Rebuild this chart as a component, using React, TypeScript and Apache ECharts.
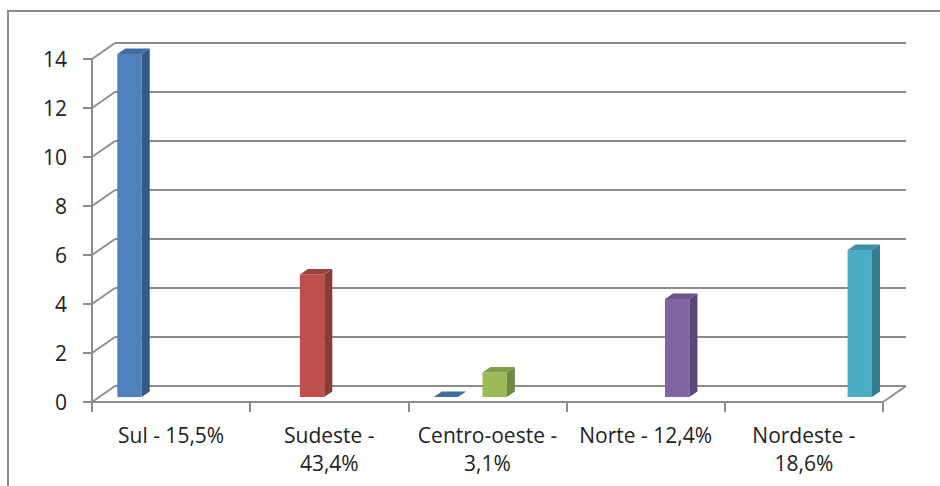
import React, { useEffect, useRef } from "react";
import * as echarts from "echarts";

// Regions with their share, shown as category labels
const categories = [
  "Sul - 15,5%",
  "Sudeste -\n43,4%",
  "Centro-oeste -\n3,1%",
  "Norte - 12,4%",
  "Nordeste -\n18,6%",
];

// One series per colour, clustered inside each category
const serie1 = [14, null, 0, null, null];
const serie2 = [null, 5, null, null, null];
const serie3 = [null, null, 1, null, null];
const serie4 = [null, null, null, 4, null];
const serie5 = [null, null, null, null, 6];

const yTicks = [0, 2, 4, 6, 8, 10, 12, 14];

const seriesValues = [serie1, serie2, serie3, serie4, serie5];

// front / side / top shades of each series
const palettes = [
  { front: "#4F81BD", side: "#365A87", top: "#3F6CA5" },
  { front: "#C0504D", side: "#8C3A38", top: "#A0413F" },
  { front: "#9BBB59", side: "#708A40", top: "#7F9E46" },
  { front: "#8064A2", side: "#5B4676", top: "#6B5489" },
  { front: "#4BACC6", side: "#337C90", top: "#3C8FA7" },
];

// pseudo-3D depth of the plot box, in pixels
const DEPTH_X = 23;
const DEPTH_Y = 16;
// where the bars sit inside that depth (fractions)
const BAR_FRONT = 0.31;
const BAR_BACK = 0.66;
// share of a category band covered by the cluster
const BAND_FILL = 0.77;

const LINE = "#8C8C8C";
const TEXT = "#222222";
const FONT = "Open Sans";

function barRenderer(k: number, n: number, colors: { front: string; side: string; top: string }) {
  return (params: any, api: any) => {
    const c = api.value(0);
    const v = api.value(1);
    const topPt = api.coord([c, v]);
    const botPt = api.coord([c, 0]);
    const band = api.size([1, 0])[0];
    const w = (band * BAND_FILL) / n;
    const sx = DEPTH_X * BAR_FRONT;
    const sy = DEPTH_Y * BAR_FRONT;
    const dx = DEPTH_X * (BAR_BACK - BAR_FRONT);
    const dy = DEPTH_Y * (BAR_BACK - BAR_FRONT);
    const x0 = topPt[0] + (k - (n - 1) / 2) * w - w / 2 + sx;
    const x1 = x0 + w;
    const yt = topPt[1] - sy;
    const yb = botPt[1] - sy;
    return {
      type: "group",
      children: [
        {
          type: "rect",
          shape: { x: x0, y: yt, width: w, height: Math.max(0, yb - yt) },
          style: { fill: colors.front },
        },
        {
          type: "polygon",
          shape: {
            points: [
              [x1, yt],
              [x1 + dx, yt - dy],
              [x1 + dx, yb - dy],
              [x1, yb],
            ],
          },
          style: { fill: colors.side },
        },
        {
          type: "polygon",
          shape: {
            points: [
              [x0, yt],
              [x1, yt],
              [x1 + dx, yt - dy],
              [x0 + dx, yt - dy],
            ],
          },
          style: { fill: colors.top },
        },
      ],
    };
  };
}

// side-wall diagonals at each tick, plus the floor's right edge
function wallRenderer(params: any, api: any) {
  const v = api.value(1);
  const band = api.size([1, 0])[0];
  const first = api.coord([0, v]);
  const left = first[0] - band / 2;
  const y = first[1];
  const children: any[] = [
    {
      type: "line",
      shape: { x1: left, y1: y, x2: left + DEPTH_X, y2: y - DEPTH_Y },
      style: { stroke: LINE, lineWidth: 2 },
    },
  ];
  if (v === 0) {
    const last = api.coord([categories.length - 1, 0]);
    const right = last[0] + band / 2;
    children.push({
      type: "line",
      shape: { x1: right, y1: y, x2: right + DEPTH_X, y2: y - DEPTH_Y },
      style: { stroke: LINE, lineWidth: 2 },
    });
  }
  return { type: "group", children };
}

export default function App() {
  const ref = useRef<HTMLDivElement>(null);

  useEffect(() => {
    if (!ref.current) return;
    const chart = echarts.init(ref.current, null, { renderer: "svg" });

    const frontGrid = { left: 92, right: 57, top: 59, bottom: 84 };
    const backGrid = {
      left: frontGrid.left + DEPTH_X,
      right: frontGrid.right - DEPTH_X,
      top: frontGrid.top - DEPTH_Y,
      bottom: frontGrid.bottom + DEPTH_Y,
    };

    const n = seriesValues.length;

    chart.setOption({
      animation: false,
      backgroundColor: "#ffffff",
      textStyle: { fontFamily: FONT },
      graphic: [
        {
          type: "rect",
          shape: { x: 8, y: 11, width: 1000, height: 1000 },
          style: { fill: "none", stroke: LINE, lineWidth: 2 },
          silent: true,
          z: -1,
        },
      ],
      grid: [
        { ...frontGrid, outerBoundsMode: "none" },
        { ...backGrid, outerBoundsMode: "none" },
      ],
      xAxis: [
        {
          type: "category",
          gridIndex: 0,
          data: categories,
          boundaryGap: true,
          axisLine: { show: true, lineStyle: { color: LINE, width: 2 } },
          axisTick: { show: true, length: 10, interval: 0, lineStyle: { color: LINE, width: 2 } },
          axisLabel: {
            interval: 0,
            margin: 19,
            fontSize: 21,
            lineHeight: 28,
            color: TEXT,
            fontFamily: FONT,
          },
          splitLine: { show: false },
        },
        {
          type: "category",
          gridIndex: 1,
          data: categories,
          show: false,
        },
      ],
      yAxis: [
        {
          type: "value",
          gridIndex: 0,
          min: 0,
          max: 14,
          interval: 2,
          axisLine: { show: true, lineStyle: { color: LINE, width: 2 } },
          axisTick: { show: true, length: 9, lineStyle: { color: LINE, width: 2 } },
          axisLabel: { margin: 25, fontSize: 21, color: TEXT, fontFamily: FONT },
          splitLine: { show: false },
        },
        {
          type: "value",
          gridIndex: 1,
          min: 0,
          max: 14,
          interval: 2,
          axisLine: { show: false },
          axisTick: { show: false },
          axisLabel: { show: false },
          splitLine: { show: true, lineStyle: { color: LINE, width: 2 } },
        },
      ],
      series: [
        {
          type: "custom",
          name: "walls",
          xAxisIndex: 0,
          yAxisIndex: 0,
          silent: true,
          z: 1,
          data: yTicks.map((t) => [0, t]),
          encode: { x: 0, y: 1 },
          renderItem: wallRenderer,
        },
        ...seriesValues.map((vals, k) => ({
          type: "custom",
          name: `Série ${k + 1}`,
          xAxisIndex: 0,
          yAxisIndex: 0,
          z: 3,
          data: vals
            .map((v, c) => [c, v])
            .filter((d) => d[1] !== null),
          encode: { x: 0, y: 1 },
          renderItem: barRenderer(k, n, palettes[k]),
        })),
      ],
    });

    return () => chart.dispose();
  }, []);

  return (
    <div
      ref={ref}
      style={{ position: "fixed", left: 0, top: 0, width: 940, height: 486 }}
    />
  );
}
